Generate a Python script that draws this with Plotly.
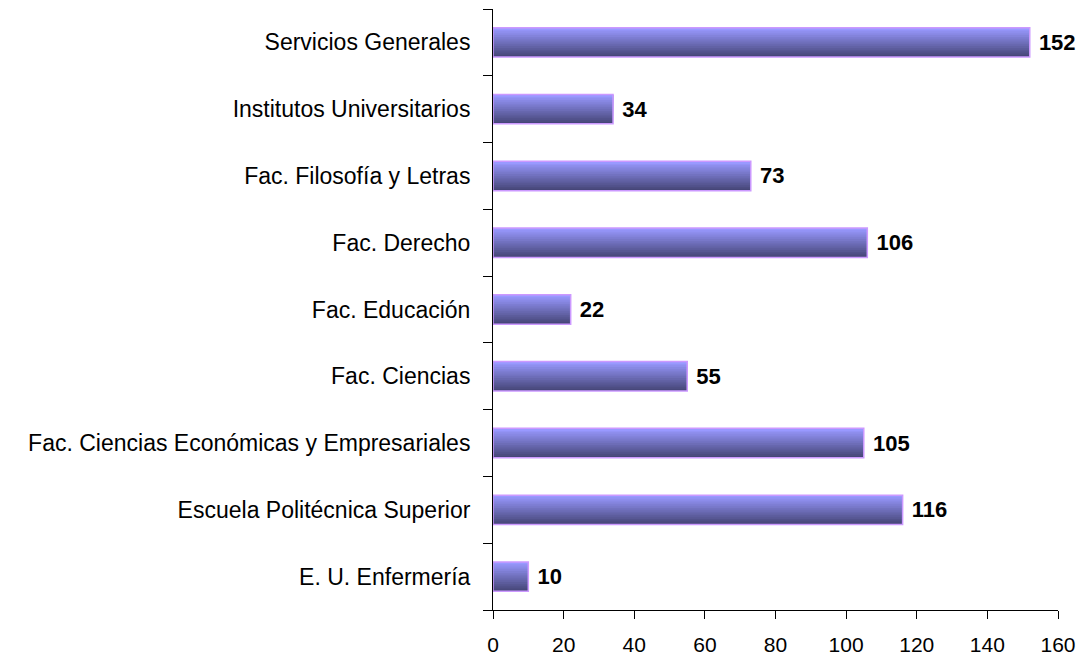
import plotly.graph_objects as go

categories = [
    "E. U. Enfermería",
    "Escuela Politécnica Superior",
    "Fac. Ciencias Económicas y Empresariales",
    "Fac. Ciencias",
    "Fac. Educación",
    "Fac. Derecho",
    "Fac. Filosofía y Letras",
    "Institutos Universitarios",
    "Servicios Generales",
]
values = [10, 116, 105, 55, 22, 106, 73, 34, 152]

x_ticks = [0, 20, 40, 60, 80, 100, 120, 140, 160]

BAR_W = 0.44
N = 16
top_rgb = (153, 153, 255)
bot_rgb = (70, 70, 120)

fig = go.Figure()
sw = BAR_W / N
for i in range(N):
    t = i / (N - 1)  # 0 bottom, 1 top
    c = tuple(int(round(b + (tp - b) * t)) for b, tp in zip(bot_rgb, top_rgb))
    fig.add_trace(go.Bar(
        y=categories, x=values, orientation="h",
        width=BAR_W - i * sw, offset=-BAR_W / 2 + i * sw,
        marker=dict(color="rgb(%d,%d,%d)" % c, line=dict(width=0)),
        hoverinfo="skip", showlegend=False,
    ))

fig.add_trace(go.Bar(
    y=categories, x=values, orientation="h",
    width=BAR_W, offset=-BAR_W / 2,
    marker=dict(color="rgba(0,0,0,0)", line=dict(color="#cc99ff", width=1.5)),
    text=[f" <b>{v}</b>" for v in values], textposition="outside",
    textfont=dict(family="Liberation Sans, Arial", size=22, color="black"),
    cliponaxis=False, showlegend=False, hoverinfo="skip",
))

fig.update_layout(
    barmode="overlay",
    width=1085, height=656,
    margin=dict(l=493, r=27, t=9, b=46),
    plot_bgcolor="white", paper_bgcolor="white",
    font=dict(family="Liberation Sans, Arial", size=21, color="black"),
    xaxis=dict(range=[0, 160], tickvals=x_ticks, showgrid=False, zeroline=False,
               showline=True, linecolor="black", linewidth=1,
               ticks="outside", ticklen=8, tickcolor="black",
               tickfont=dict(size=21), ticklabelstandoff=8, automargin=False),
    yaxis=dict(type="category", categoryorder="array", categoryarray=categories,
               range=[-0.5, len(categories) - 0.5],
               showgrid=False, showline=True, linecolor="black", linewidth=1,
               ticks="outside", ticklen=9, tickcolor="black", tickson="boundaries",
               tickfont=dict(size=23), ticklabelstandoff=17, automargin=False),
)

fig.write_html("out.html", config={"displayModeBar": False},
               post_script="document.body.style.margin='0';document.body.style.overflow='hidden';")
